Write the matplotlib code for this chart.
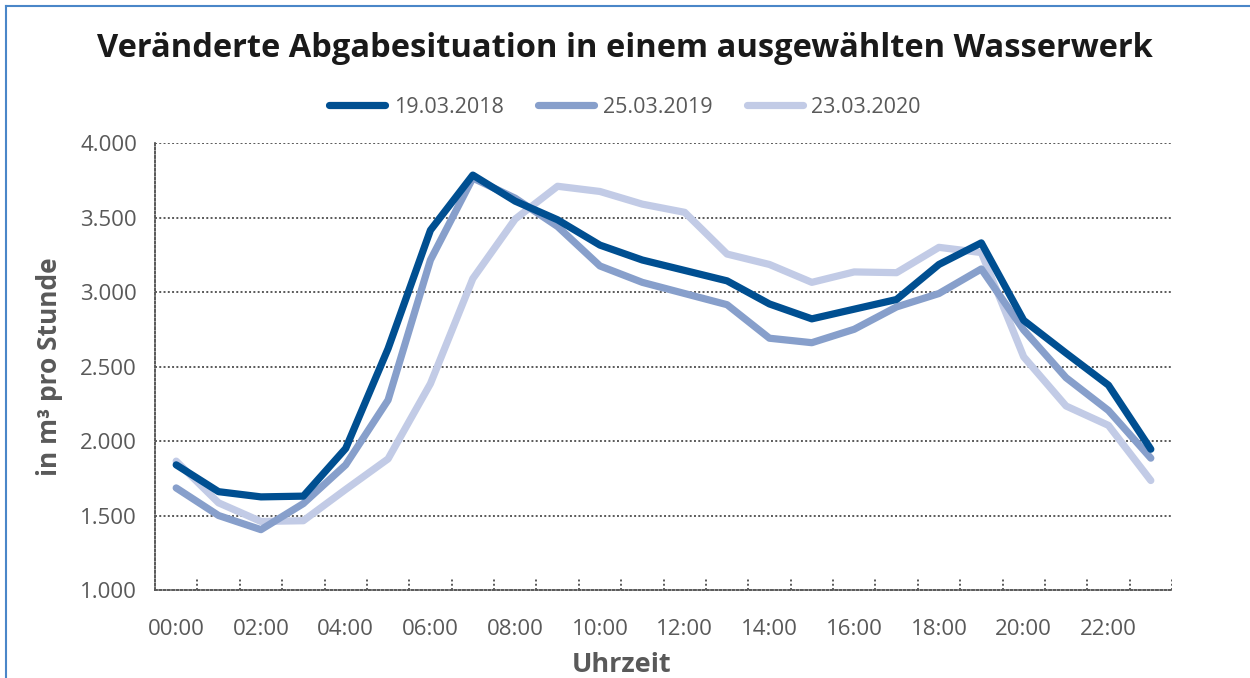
import numpy as np
import matplotlib
matplotlib.use("Agg")
import matplotlib.pyplot as plt
from matplotlib.lines import Line2D
from matplotlib.ticker import FuncFormatter
from matplotlib.transforms import blended_transform_factory

# -- DATA -------------------------------------------------------------------
hours = [f"{h:02d}:00" for h in range(24)]
labels = ["19.03.2018", "25.03.2019", "23.03.2020"]
v2018 = [1840, 1660, 1625, 1630, 1950, 2620, 3415, 3785, 3610, 3485, 3315, 3215,
         3145, 3075, 2920, 2820, 2885, 2950, 3185, 3330, 2810, 2590, 2375, 1945]
v2019 = [1685, 1500, 1405, 1580, 1840, 2275, 3215, 3765, 3630, 3440, 3175, 3065,
         2990, 2915, 2690, 2660, 2750, 2900, 2990, 3155, 2745, 2425, 2205, 1885]
v2020 = [1865, 1585, 1460, 1465, 1675, 1880, 2385, 3090, 3490, 3710, 3675, 3590,
         3535, 3255, 3185, 3065, 3135, 3130, 3300, 3265, 2565, 2235, 2105, 1735]
colors = ["#004f91", "#879fcb", "#c2cbe6"]
yticks = [1000, 1500, 2000, 2500, 3000, 3500, 4000]

# -- STYLE ------------------------------------------------------------------
plt.rcParams['font.family'] = ['Open Sans', 'DejaVu Sans']
gray = "#595959"
dots = (0, (1, 1.2))

fig = plt.figure(figsize=(12.5, 6.78), dpi=100)
ax = fig.add_axes([0.124, 0.1298, 0.8136, 0.6592])

x = np.arange(len(hours))
for vals, col, lab in zip([v2018, v2019, v2020][::-1], colors[::-1], labels[::-1]):
    ax.plot(x, vals, color=col, lw=5.2, label=lab, solid_capstyle='round')

ax.set_xlim(-0.5, 23.5)
ax.set_ylim(1000, 4000)
ax.set_yticks(yticks)
ax.yaxis.set_major_formatter(FuncFormatter(lambda v, p: f"{v:,.0f}".replace(",", ".")))
ax.set_xticks(x[::2])
ax.set_xticklabels(hours[::2])
ax.tick_params(axis='both', length=0, labelsize=16, labelcolor=gray)
ax.tick_params(axis='x', pad=21)
ax.tick_params(axis='y', pad=13)

# dotted horizontal gridlines
for yv in yticks[1:]:
    ax.axhline(yv, color=gray, lw=1.4, linestyle=dots, zorder=0)

for side in ['top', 'right']:
    ax.spines[side].set_visible(False)
for side in ['left', 'bottom']:
    ax.spines[side].set_color(gray)
    ax.spines[side].set_linewidth(1.4)
    ax.spines[side].set_linestyle(dots)

# dotted category separators at the bottom
trans = blended_transform_factory(ax.transData, ax.transAxes)
ax.vlines(x + 0.5, 0, 0.026, transform=trans, color=gray, lw=1.4, linestyle=dots)

ax.set_xlabel("Uhrzeit", fontsize=19.5, fontweight='bold', color=gray, labelpad=6)
ax.xaxis.set_label_coords(0.459, -0.138)
ax.set_ylabel("in m³ pro Stunde", fontsize=19, fontweight='bold', color=gray, labelpad=12)

fig.suptitle("Veränderte Abgabesituation in einem ausgewählten Wasserwerk",
             fontsize=23.5, fontweight='bold', color="#1a1a1a", y=0.929, va='center')

handles, labs = ax.get_legend_handles_labels()
fig.legend(handles[::-1], labs[::-1], loc='center', bbox_to_anchor=(0.5, 0.842), ncol=3,
           frameon=False, fontsize=15.5, handlelength=2.6, handletextpad=0.4,
           columnspacing=1.6, labelcolor=gray)

# frame lines on the left and top
fig.add_artist(Line2D([0.0048, 0.0048], [0, 0.991], transform=fig.transFigure,
                      color="#4a86c8", lw=1.5))
fig.add_artist(Line2D([0.0048, 1], [0.991, 0.991], transform=fig.transFigure,
                      color="#4a86c8", lw=1.5))

fig.savefig("out.png", dpi=100)
